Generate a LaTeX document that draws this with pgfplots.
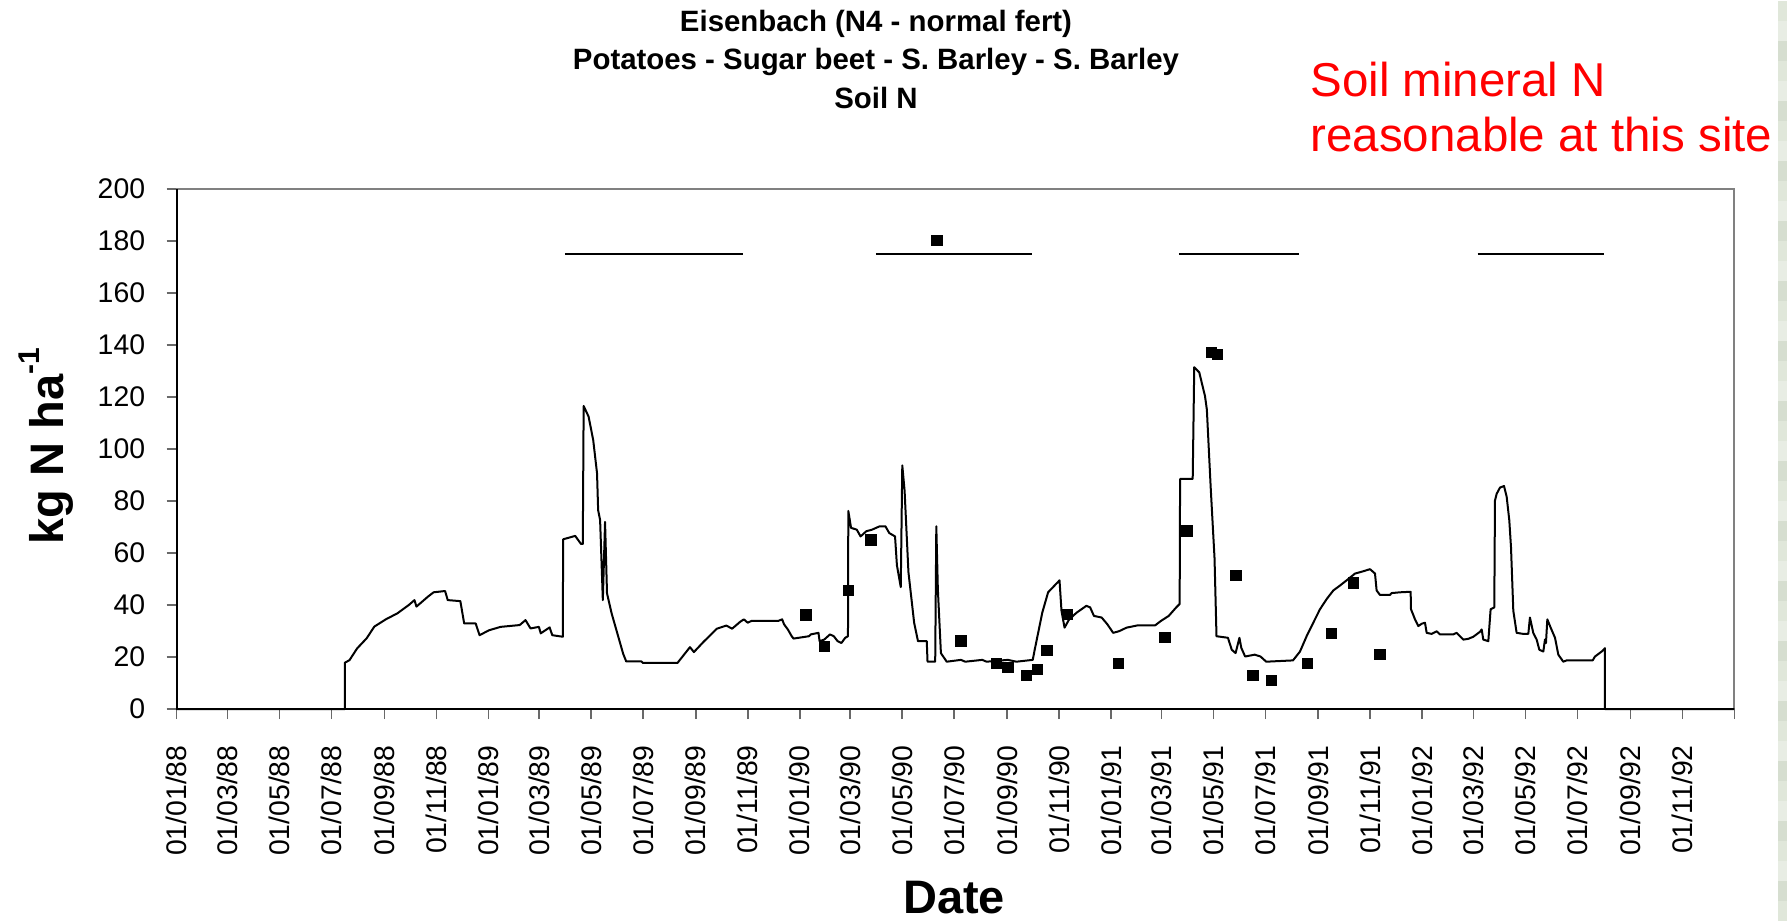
\documentclass[border=0pt]{standalone}
\usepackage{fontspec}
\setmainfont{Liberation Sans}
\usepackage{pgfplots}
\pgfplotsset{compat=1.18}

\definecolor{framegray}{RGB}{128,128,128}
\definecolor{tickgray}{RGB}{105,105,105}
\definecolor{stripA}{RGB}{224,231,218}
\definecolor{stripB}{RGB}{214,222,208}
\definecolor{stripC}{RGB}{232,237,228}

% Simulated soil mineral N (day 0 = 01/01/1988)
\pgfplotstableread{
day val
0 0
197.4 0
197.4 17.8
202.9 18.8
211.8 23.3
223 27.2
232 31.7
245.5 34.5
259 36.8
272.4 40.0
279.1 41.9
281.4 39.4
294.8 43.2
301.5 44.9
315 45.4
318.1 41.9
332.9 41.5
337.4 32.9
350.9 32.9
355.4 28.4
366.6 30.3
380.1 31.6
402.5 32.3
409.3 34.2
415.2 31.0
425 31.6
427.2 29.1
437.6 31.4
440.7 28.4
453 27.8
453.5 65.3
467.6 66.6
474.4 63.5
476.5 63.5
477.5 116.6
483.3 112.5
488.7 103.5
493.2 90.7
494.5 76.5
496.8 72.7
500 41.9
502.6 72
504.9 44.5
510.3 36.8
517 29.1
523.8 21.3
527.4 18.3
545.3 18.3
547 17.7
587.5 17.7
602.2 23.8
606.8 21.9
618 25.8
633.7 30.9
644.9 32.1
651.6 30.9
660.9 33.5
665.4 34.5
669.9 33.2
674.4 33.9
705.8 33.9
710.3 34.5
712.5 32.6
717 30.6
721.5 28.0
723.7 27.1
741.7 28.0
743.9 28.7
752.9 29.3
754.2 26.1
759.6 26.7
766.4 28.7
770.9 28.0
775.3 26.1
779.8 25.4
784.3 27.4
787.5 28.0
787.9 76.2
791.1 69.7
797.8 69.0
802.3 66.4
809 68.4
815.7 69.0
824.7 70.3
831.4 70.3
835.9 67.7
842.7 66.4
844.9 55.3
849.4 46.9
851.2 93.7
853.9 84.0
858.4 52.7
865.1 33.2
869.6 26.1
879.9 26.1
880.8 18.2
889.8 18.2
891.1 70.3
892.9 46.2
896.5 21.5
903.3 18.2
920 18.9
925 18.2
945 18.9
950 18.2
975 18.9
985 18.2
1004.2 18.9
1006.5 22.8
1015.4 37.1
1022.2 44.9
1035.6 49.5
1037.9 37.8
1041.5 31.3
1046.9 34.5
1055.8 37.1
1067.1 39.7
1071.5 39.1
1076 35.8
1085 35.2
1091.7 32.6
1098.5 29.3
1105.2 29.9
1114.2 31.3
1127.6 32.2
1147.8 32.2
1154.6 33.9
1163.6 35.8
1172.5 39.1
1176.5 40.4
1177 88.5
1191.8 88.5
1193.6 131.5
1199.5 129.5
1206.2 120.4
1208.4 115.2
1212.9 85.2
1217.4 58.0
1219.7 28.0
1233.1 27.4
1237.6 22.8
1242.1 21.5
1246.6 27.4
1248.8 23.5
1253.3 20.2
1264.5 20.9
1271.3 20.2
1278 18.2
1309.4 18.7
1317.6 22.1
1325.4 28.0
1333.2 33.2
1341.1 38.4
1348.9 42.3
1356.7 45.6
1364.5 47.5
1372.3 49.5
1382.1 52.1
1391.9 53.0
1399.7 53.8
1403.6 52.7
1405.6 52.1
1407.5 45.6
1411.4 43.9
1423.2 43.9
1425.1 44.6
1434.9 44.9
1447.4 45.1
1447.8 38.4
1452.5 34.5
1456.4 31.9
1460.3 32.8
1464.2 33.2
1466.2 29.3
1472 28.9
1477.9 29.9
1481.8 28.7
1497.4 28.7
1501.3 29.3
1505.3 28.0
1509.2 26.7
1515 27.0
1520.9 27.8
1528.7 29.7
1530.7 30.6
1532.6 26.7
1538.5 26.1
1541.2 38.4
1545.5 39.1
1546.3 80.2
1548.3 82.8
1552.2 85.2
1556.9 85.8
1560 81.7
1563.1 72.6
1565.1 62.2
1567.8 37.8
1571.7 29.3
1579.5 28.9
1585.4 28.9
1587.3 35.2
1591.2 29.3
1595.2 26.7
1598.3 22.8
1603 22.1
1604.9 26.7
1606.1 25.4
1607.7 34.5
1611.6 31.3
1616.7 27.4
1620.6 20.9
1626.4 18.2
1630.3 18.7
1660.9 18.7
1663.6 20.2
1671.4 22.1
1675.3 23.4
1675.3 0
1827 0
}\simulated

% Measured soil mineral N
\pgfplotstableread{
day val
738.0 36.2
759.6 24.1
787.9 45.6
814.4 65.1
891.6 180.3
919.8 26.2
961.6 17.6
975.1 15.9
996.6 13.0
1009.7 15.3
1020.8 22.6
1044.6 36.5
1104.3 17.6
1159 27.6
1185 68.6
1213.8 137.1
1220.5 136.4
1242.6 51.4
1262.3 13.0
1283.9 11.1
1326.1 17.6
1354.4 29.1
1380.1 48.5
1411.5 21.1
}\measured

\begin{document}
\begin{tikzpicture}
\path[use as bounding box] (0,0) rectangle (893.5pt,460.5pt);

% light background strip at the right edge
\foreach \i in {0,...,45} {
  \pgfmathtruncatemacro{\k}{mod(\i*7,3)}
  \ifcase\k \fill[stripA] (889pt,\i*10pt) rectangle (893.5pt,\i*10pt+10pt);
  \or \fill[stripB] (889pt,\i*10pt) rectangle (893.5pt,\i*10pt+10pt);
  \or \fill[stripC] (889pt,\i*10pt) rectangle (893.5pt,\i*10pt+10pt);
  \fi
}

\begin{axis}[
  at={(88.25pt,106pt)}, anchor=south west,
  scale only axis,
  width=778.9pt, height=259.9pt,
  xmin=0, xmax=1827, ymin=0, ymax=200,
  clip=false,
  axis line style={framegray, line width=0.9pt},
  tick pos=left,
  tick align=outside,
  major tick length=5pt,
  tick style={tickgray, line width=0.8pt},
  ytick={0,20,...,200},
  xtick={0,60,121,182,244,305,366,425,486,547,609,670,731,790,851,912,974,1035,1096,1155,1216,1277,1339,1400,1461,1521,1582,1643,1705,1766,1827},
  xticklabels={01/01/88,01/03/88,01/05/88,01/07/88,01/09/88,01/11/88,
    01/01/89,01/03/89,01/05/89,01/07/89,01/09/89,01/11/89,
    01/01/90,01/03/90,01/05/90,01/07/90,01/09/90,01/11/90,
    01/01/91,01/03/91,01/05/91,01/07/91,01/09/91,01/11/91,
    01/01/92,01/03/92,01/05/92,01/07/92,01/09/92,01/11/92,{}},
  /pgf/number format/assume math mode=true,
  tick label style={font=\fontsize{14.2}{16}\selectfont, black},
  yticklabel style={anchor=east, inner sep=0pt, xshift=-10.5pt},
  xticklabel style={rotate=90, anchor=east, inner sep=0pt, yshift=0pt, xshift=-13pt},
]
% crop periods
\addplot[black, line width=0.75pt] coordinates {(455.6,175) (664.4,175)};
\addplot[black, line width=0.75pt] coordinates {(820.2,175) (1002.9,175)};
\addplot[black, line width=0.75pt] coordinates {(1175.7,175) (1316.1,175)};
\addplot[black, line width=0.75pt] coordinates {(1526,175) (1674.5,175)};
% simulated
\addplot[black, line width=1pt, line join=round, mark=none] table[x=day, y=val] {\simulated};
% measured
\addplot[only marks, mark=square*, mark size=2.6pt, black] table[x=day, y=val] {\measured};
% left and bottom axes in black
\draw[black, line width=1pt] (rel axis cs:0,1) -- (rel axis cs:0,0) -- (rel axis cs:1,0);
\end{axis}

% titles
\node[anchor=base, font=\bfseries\fontsize{14.7}{17}\selectfont] at (438pt,444.65pt) {Eisenbach (N4 - normal fert)};
\node[anchor=base, font=\bfseries\fontsize{14.7}{17}\selectfont] at (438pt,425.5pt) {Potatoes - Sugar beet - S. Barley - S. Barley};
\node[anchor=base, font=\bfseries\fontsize{14.7}{17}\selectfont] at (438pt,406.35pt) {Soil N};

% annotation
\node[anchor=base west, inner sep=0pt, text=red, font=\fontsize{23.75}{28}\selectfont] at (655pt,412.15pt) {Soil mineral N};
\node[anchor=base west, inner sep=0pt, text=red, font=\fontsize{23.75}{28}\selectfont] at (655pt,384.65pt) {reasonable at this site};

% axis titles
\node[anchor=base, rotate=90, inner sep=0pt, font=\bfseries\fontsize{23.5}{28}\selectfont] at (31.65pt,237.5pt) {kg N ha\raisebox{0.5em}{\fontsize{15}{18}\selectfont -1}};
\node[anchor=base, inner sep=0pt, font=\bfseries\fontsize{23.5}{28}\selectfont] at (477pt,4pt) {Date};
\end{tikzpicture}
\end{document}
